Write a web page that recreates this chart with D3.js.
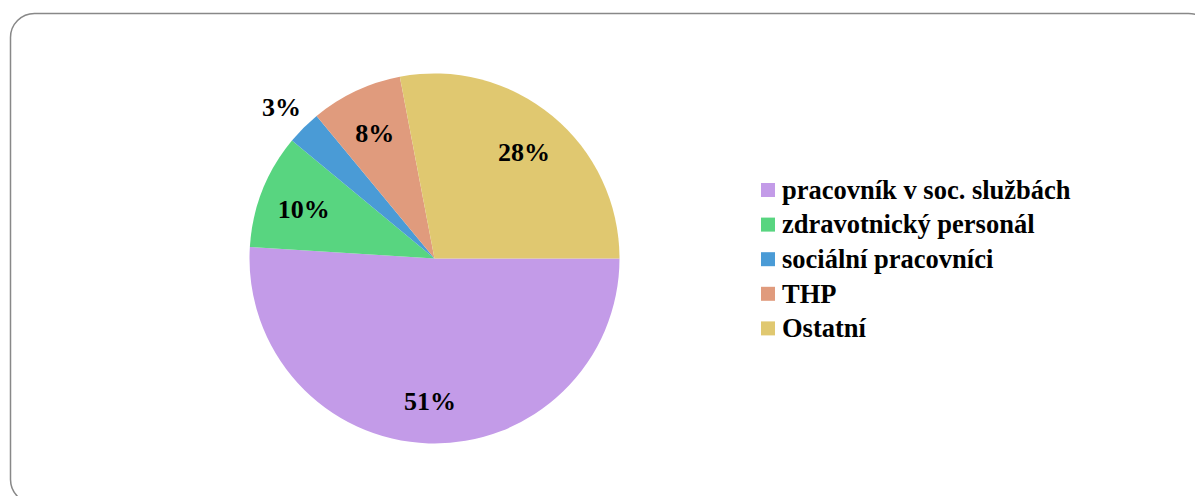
<!DOCTYPE html>
<html>
  <head>
    <meta charset="utf-8">
    <title>pie chart</title>
    <script src="https://cdn.jsdelivr.net/npm/d3@7"></script>
    <style>
      body { margin: 0; background: #fff; }
      svg text { font-family: "Liberation Serif", "DejaVu Serif", serif; font-weight: bold; fill: #000; }
    </style>
  </head>

  <body>
    <svg id="chart" width="1195" height="496"></svg>

    <script>
      // data
      categories = ["pracovník v soc. službách", "zdravotnický personál", "sociální pracovníci", "THP", "Ostatní"];
      shares = [51, 10, 3, 8, 28];
      colours = ["#c39be8", "#58d580", "#4a9bd6", "#e09b7d", "#e0c870"];

      chart = d3.select("#chart");

      // frame
      chart.append("rect")
        .attr("x", 10.5)
        .attr("y", 13.5)
        .attr("width", 1202)
        .attr("height", 490)
        .attr("rx", 24)
        .attr("fill", "none")
        .attr("stroke", "#888")
        .attr("stroke-width", 1.5);

      // pie
      cx = 434.5;
      cy = 258.5;
      radius = 185;

      pie = d3.pie()
        .sort(null)
        .startAngle(Math.PI / 2)
        .endAngle(Math.PI / 2 + 2 * Math.PI);

      arc = d3.arc().innerRadius(0).outerRadius(radius);
      inLabel = d3.arc().innerRadius(radius * 0.76).outerRadius(radius * 0.76);
      outLabel = d3.arc().innerRadius(radius * 1.17).outerRadius(radius * 1.17);

      colour = d3.scaleOrdinal().domain(categories).range(colours);

      slices = pie(shares);

      g = chart.append("g")
        .attr("transform", "translate(" + cx + "," + cy + ")");

      g.selectAll(".slice")
          .data(slices)
        .enter().append("path")
          .classed("slice", true)
          .attr("d", arc)
          .attr("fill", function(d, i) { return colour(categories[i]); });

      g.selectAll(".label")
          .data(slices)
        .enter().append("text")
          .classed("label", true)
          .attr("transform", function(d) {
            pos = d.data < 5 ? outLabel.centroid(d) : inLabel.centroid(d);
            return "translate(" + pos + ")";
          })
          .attr("text-anchor", "middle")
          .attr("dy", "0.42em")
          .style("font-size", "26px")
          .text(function(d) { return d.data + "%"; });

      // legend
      legend = chart.append("g")
        .attr("transform", "translate(761,190)");

      items = legend.selectAll(".item")
          .data(categories)
        .enter().append("g")
          .classed("item", true)
          .attr("transform", function(d, i) { return "translate(0," + i * 34.6 + ")"; });

      items.append("rect")
        .attr("x", 0)
        .attr("y", -7)
        .attr("width", 14)
        .attr("height", 14)
        .attr("fill", function(d) { return colour(d); });

      items.append("text")
        .attr("x", 21)
        .attr("dy", "0.33em")
        .style("font-size", "26.5px")
        .text(function(d) { return d; });
    </script>
  </body>
</html>
